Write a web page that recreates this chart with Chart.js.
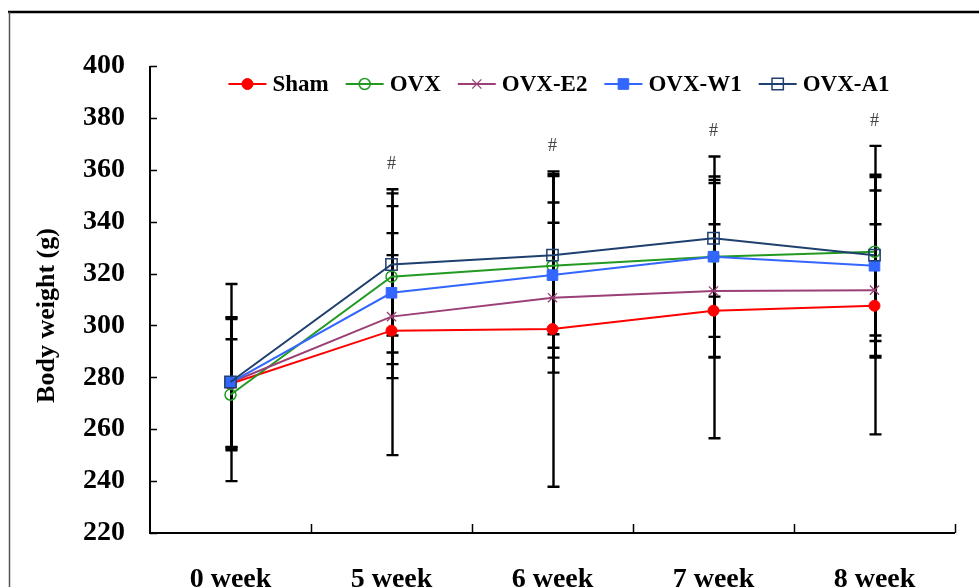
<!DOCTYPE html>
<html>
<head>
<meta charset="utf-8">
<script src="https://cdn.jsdelivr.net/npm/chart.js@4/dist/chart.umd.min.js"></script>
<style>
  html, body { margin: 0; padding: 0; background: #ffffff; }
  #wrap { width: 979px; height: 587px; position: relative; }
  canvas { display: block; }
</style>
</head>
<body>
<div id="wrap"><canvas id="chart" width="979" height="587"></canvas></div>
<script>
// Time points
const categories = ['0 week', '5 week', '6 week', '7 week', '8 week'];

// Mean body weight (g) per group
const sham  = [277.5, 298.0, 298.6, 305.7, 307.6];
const ovx   = [273.3, 318.8, 323.0, 326.5, 328.4];
const ovxE2 = [278.0, 303.4, 310.7, 313.3, 313.6];
const ovxW1 = [278.0, 312.6, 319.4, 326.5, 323.0];
const ovxA1 = [278.2, 323.5, 327.1, 333.6, 327.1];

// Standard deviations (g)
const shamSD  = [25.0, 48.0, 60.8, 49.2, 49.6];
const ovxSD   = [21.4, 33.7, 35.4, 38.6, 40.8];
const ovxE2SD = [38.0, 23.7, 28.9, 25.7, 25.4];
const ovxW1SD = [25.0, 23.0, 28.0, 30.9, 29.0];
const ovxA1SD = [25.0, 27.4, 30.5, 22.5, 31.0];

// Significance marks above each time point
const sigMarks = ['', '#', '#', '#', '#'];

// Y axis tick values
const yTicks = [220, 240, 260, 280, 300, 320, 340, 360, 380, 400];

const serif = "'Liberation Serif', 'Times New Roman', serif";

// Later groups are painted over earlier ones (negative order = drawn later)
const datasets = [
  { label: 'Sham',   data: sham,  sd: shamSD,  borderColor: '#ff0000', backgroundColor: '#ff0000',
    pointStyle: 'circle',   pointRadius: 5.5, pointBorderWidth: 1 },
  { label: 'OVX',    data: ovx,   sd: ovxSD,   borderColor: '#229a22', backgroundColor: 'rgba(0,0,0,0)',
    pointStyle: 'circle',   pointRadius: 5.5, pointBorderWidth: 1.5 },
  { label: 'OVX-E2', data: ovxE2, sd: ovxE2SD, borderColor: '#9b3f76', backgroundColor: '#9b3f76',
    pointStyle: 'crossRot', pointRadius: 6.5, pointBorderWidth: 1.3 },
  { label: 'OVX-W1', data: ovxW1, sd: ovxW1SD, borderColor: '#3366ff', backgroundColor: '#3366ff',
    pointStyle: 'rect',     pointRadius: 7.5, pointBorderWidth: 1 },
  { label: 'OVX-A1', data: ovxA1, sd: ovxA1SD, borderColor: '#1f406e', backgroundColor: 'rgba(0,0,0,0)',
    pointStyle: 'rect',     pointRadius: 8,   pointBorderWidth: 1.5 }
].map((d, i) => Object.assign({ borderWidth: 2, tension: 0, fill: false, order: -i, pointHoverRadius: d.pointRadius }, d));

// Frame, axes with inward ticks, and the y-axis title
const framePlugin = {
  id: 'frame',
  beforeDraw(chart) {
    const ctx = chart.ctx;
    ctx.save();
    ctx.fillStyle = '#ffffff';
    ctx.fillRect(0, 0, chart.width, chart.height);
    ctx.strokeStyle = '#000000';
    ctx.lineWidth = 2.5;
    ctx.beginPath();
    ctx.moveTo(8, 12);
    ctx.lineTo(chart.width, 12);
    ctx.stroke();
    ctx.strokeStyle = '#555555';
    ctx.lineWidth = 1.5;
    ctx.beginPath();
    ctx.moveTo(9.5, 12);
    ctx.lineTo(9.5, chart.height);
    ctx.stroke();
    ctx.restore();
  },
  afterDraw(chart) {
    const ctx = chart.ctx;
    const { left, right, top, bottom } = chart.chartArea;
    const y = chart.scales.y;
    const n = categories.length;
    ctx.save();
    ctx.strokeStyle = '#000000';
    ctx.lineWidth = 2;
    ctx.beginPath();
    ctx.moveTo(left, top);
    ctx.lineTo(left, bottom);
    ctx.lineTo(right, bottom);
    ctx.stroke();
    ctx.lineWidth = 1.5;
    ctx.beginPath();
    yTicks.forEach(v => {
      const py = Math.round(y.getPixelForValue(v)) + 0.5;
      ctx.moveTo(left, py);
      ctx.lineTo(left + 7, py);
    });
    for (let i = 1; i <= n; i++) {
      const px = Math.round(left + (right - left) * i / n) + 0.5;
      ctx.moveTo(px, bottom);
      ctx.lineTo(px, bottom - 9);
    }
    ctx.stroke();

    ctx.translate(47, (top + bottom) / 2 + 16);
    ctx.rotate(-Math.PI / 2);
    ctx.fillStyle = '#000000';
    ctx.font = 'bold 26px ' + serif;
    ctx.textAlign = 'center';
    ctx.textBaseline = 'middle';
    ctx.fillText('Body weight (g)', 0, 0);
    ctx.restore();
  }
};

// Error bars (mean ± SD), drawn beneath the lines and markers
const errorBarPlugin = {
  id: 'errorBars',
  beforeDatasetsDraw(chart) {
    const ctx = chart.ctx;
    const xs = chart.scales.x, ys = chart.scales.y;
    ctx.save();
    ctx.strokeStyle = '#000000';
    ctx.lineWidth = 2.4;
    chart.data.datasets.forEach(ds => {
      ds.data.forEach((v, j) => {
        const px = Math.round(xs.getPixelForValue(j)) + 0.5;
        const yt = ys.getPixelForValue(v + ds.sd[j]);
        const yb = ys.getPixelForValue(v - ds.sd[j]);
        ctx.beginPath();
        ctx.moveTo(px, yt);
        ctx.lineTo(px, yb);
        ctx.moveTo(px - 6, yt);
        ctx.lineTo(px + 6, yt);
        ctx.moveTo(px - 6, yb);
        ctx.lineTo(px + 6, yb);
        ctx.stroke();
      });
    });
    ctx.restore();
  },
  afterDatasetsDraw(chart) {
    const ctx = chart.ctx;
    const xs = chart.scales.x, ys = chart.scales.y;
    ctx.save();
    ctx.fillStyle = '#444444';
    ctx.font = '18px ' + serif;
    ctx.textAlign = 'center';
    ctx.textBaseline = 'middle';
    sigMarks.forEach((m, j) => {
      if (!m) return;
      let topVal = -Infinity;
      chart.data.datasets.forEach(ds => { topVal = Math.max(topVal, ds.data[j] + ds.sd[j]); });
      ctx.fillText(m, xs.getPixelForValue(j), ys.getPixelForValue(topVal) - 25);
    });
    ctx.restore();
  }
};

// Legend: line sample with marker, then label, laid out in one row
const legendPlugin = {
  id: 'lineLegend',
  afterDraw(chart) {
    const ctx = chart.ctx;
    const lineLen = 38, gapText = 6, gapItem = 17;
    ctx.save();
    ctx.font = 'bold 23px ' + serif;
    const items = chart.data.datasets.map(ds => ({ ds, w: ctx.measureText(ds.label).width }));
    const total = items.reduce((s, it) => s + lineLen + gapText + it.w, 0) + gapItem * (items.length - 1);
    let x = 559 - total / 2;
    const y = 84;
    items.forEach(({ ds, w }) => {
      ctx.strokeStyle = ds.borderColor;
      ctx.lineWidth = 2;
      ctx.beginPath();
      ctx.moveTo(x, y);
      ctx.lineTo(x + lineLen, y);
      ctx.stroke();
      ctx.fillStyle = ds.backgroundColor;
      ctx.lineWidth = ds.pointBorderWidth;
      Chart.helpers.drawPoint(ctx, { pointStyle: ds.pointStyle, radius: ds.pointRadius, rotation: 0, borderWidth: ds.pointBorderWidth }, x + lineLen / 2, y);
      ctx.fillStyle = '#000000';
      ctx.textAlign = 'left';
      ctx.textBaseline = 'middle';
      ctx.fillText(ds.label, x + lineLen + gapText, y + 1);
      x += lineLen + gapText + w + gapItem;
    });
    ctx.restore();
  }
};

new Chart(document.getElementById('chart'), {
  type: 'line',
  data: { labels: categories, datasets },
  options: {
    responsive: false,
    animation: false,
    devicePixelRatio: 1,
    layout: { padding: { top: 66, right: 24, left: 0, bottom: 0 } },
    plugins: { legend: { display: false }, tooltip: { enabled: false } },
    scales: {
      x: {
        type: 'category',
        offset: true,
        grid: { display: false, drawTicks: false },
        border: { display: false },
        ticks: { color: '#000000', padding: 30, font: { family: serif, size: 28, weight: 'bold' } },
        afterFit(scale) { scale.height = 54; }
      },
      y: {
        min: 220,
        max: 400,
        grid: { display: false, drawTicks: false },
        border: { display: false },
        afterBuildTicks(scale) { scale.ticks = yTicks.map(v => ({ value: v })); },
        ticks: { color: '#000000', padding: 25, font: { family: serif, size: 28, weight: 'bold' } },
        afterFit(scale) { scale.width = 150; }
      }
    }
  },
  plugins: [framePlugin, errorBarPlugin, legendPlugin]
});
</script>
</body>
</html>
